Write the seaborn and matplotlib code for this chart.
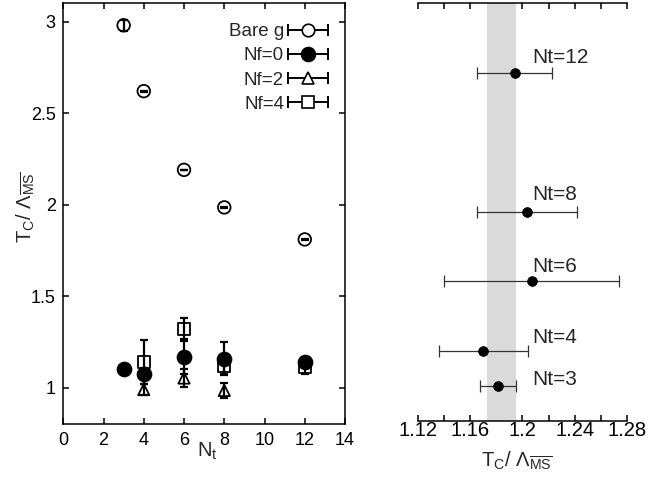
import matplotlib
matplotlib.use("Agg")
import matplotlib.pyplot as plt
from matplotlib.lines import Line2D
from matplotlib.legend_handler import HandlerLine2D
from matplotlib.ticker import FixedLocator, FixedFormatter, MultipleLocator
import seaborn as sns

# T_c / Lambda_MSbar against the temporal lattice extent N_t
bare_nt = [3, 4, 6, 8, 12]
bare_tc = [2.98, 2.62, 2.19, 1.985, 1.81]
bare_err = [0.03, 0.002, 0.002, 0.002, 0.002]

nf0_nt = [3, 4, 6, 8, 12]
nf0_tc = [1.103, 1.076, 1.167, 1.158, 1.14]
nf0_err = [0.01, 0.03, 0.09, 0.09, 0.02]

nf2_nt = [4, 6, 8]
nf2_tc = [0.99, 1.053, 0.985]
nf2_err = [0.028, 0.05, 0.042]

nf4_nt = [4, 6, 8, 12]
nf4_tc = [1.138, 1.322, 1.12, 1.112]
nf4_err = [0.12, 0.058, 0.045, 0.035]

# Pure-gauge estimates per N_t with horizontal uncertainties
fit_nt = [12, 8, 6, 4, 3]
fit_tc = [1.194, 1.2035, 1.207, 1.170, 1.181]
fit_err = [0.029, 0.0386, 0.067, 0.034, 0.0137]
fit_labels = ["Nt=12", "Nt=8", "Nt=6", "Nt=4", "Nt=3"]
band_lo, band_hi = 1.173, 1.195

right_ticks = [1.12, 1.16, 1.20, 1.24, 1.28]
right_ticklabels = ["1.12", "1.16", "1.2", "1.24", "1.28"]

sns.set_style("ticks")
plt.rcParams["font.family"] = ["Liberation Sans", "DejaVu Sans"]
plt.rcParams["mathtext.fontset"] = "custom"
plt.rcParams["mathtext.rm"] = "Liberation Sans"
plt.rcParams["mathtext.it"] = "Liberation Sans:italic"
plt.rcParams["axes.linewidth"] = 1.1

fig = plt.figure(figsize=(6.49, 4.83), dpi=100)
axL = fig.add_axes([0.0975, 0.1215, 0.4341, 0.8717])
axR = fig.add_axes([0.6445, 0.1290, 0.3211, 0.8648])

ylab = r"T$_\mathregular{C}$/ $\Lambda_{\overline{\mathregular{MS}}}$"

# ---------------- left panel ----------------
series = [
    ("Bare g", bare_nt, bare_tc, bare_err, "o", "none", 82, 2),
    ("Nf=4", nf4_nt, nf4_tc, nf4_err, "s", "none", 75, 3),
    ("Nf=2", nf2_nt, nf2_tc, nf2_err, "^", "none", 66, 4),
    ("Nf=0", nf0_nt, nf0_tc, nf0_err, "o", "black", 100, 5),
]
for name, xs, ys, es, mk, fc, size, z in series:
    axL.errorbar(xs, ys, yerr=es, fmt="none", ecolor="black",
                 elinewidth=1.6, capsize=3.2, capthick=1.6, zorder=z)
    sns.scatterplot(x=xs, y=ys, ax=axL, marker=mk, s=size, color="black",
                    facecolors=fc, edgecolor="black", linewidth=1.3,
                    zorder=z + 0.5, legend=False)

axL.set_xlim(0, 14)
axL.set_ylim(0.8, 3.1)
axL.xaxis.set_major_locator(MultipleLocator(2))
axL.yaxis.set_major_locator(FixedLocator([1, 1.5, 2, 2.5, 3]))
axL.yaxis.set_major_formatter(FixedFormatter(["1", "1.5", "2", "2.5", "3"]))
axL.tick_params(direction="in", top=True, right=True, length=4.5, width=1.1,
                labelsize=13, pad=5.5, colors="black")
for sp in axL.spines.values():
    sp.set_visible(True)
    sp.set_color("black")

axL.set_xlabel(r"N$_\mathregular{t}$", fontsize=14.5)
axL.xaxis.set_label_coords(0.51, -0.038)
axL.set_ylabel(ylab, fontsize=14.5)
axL.yaxis.set_label_coords(-0.088, 0.515)

# legend entries drawn as marker on a horizontal capped bar
handles, hmap = [], {}
for name, mk, fc in [("Bare g", "o", "white"), ("Nf=0", "o", "black"),
                     ("Nf=2", "^", "white"), ("Nf=4", "s", "white")]:
    bar = Line2D([], [], color="black", lw=1.4, marker="|", ms=8, mew=1.4)
    dot = Line2D([], [], ls="none", marker=mk, ms=10 if fc == "black" else 9,
                 mfc=fc, mec="black", mew=1.2)
    hmap[bar] = HandlerLine2D(numpoints=2, marker_pad=0)
    hmap[dot] = HandlerLine2D(numpoints=1)
    handles.append((bar, dot))
axL.legend(handles, ["Bare g", "Nf=0", "Nf=2", "Nf=4"], handler_map=hmap,
           loc="upper right", bbox_to_anchor=(0.94, 0.953), frameon=False,
           markerfirst=False, fontsize=13.5, handlelength=2.13,
           handletextpad=0.22, labelspacing=0.38, borderpad=0,
           borderaxespad=0)

# ---------------- right panel ----------------
axR.axvspan(band_lo, band_hi, color="#dadada", lw=0, zorder=1)
axR.errorbar(fit_tc, fit_nt, xerr=fit_err, fmt="none", ecolor="#333333",
             elinewidth=0.9, capsize=4.3, capthick=0.9, zorder=2)
sns.scatterplot(x=fit_tc, y=fit_nt, ax=axR, color="black", s=50,
                edgecolor="black", linewidth=0.5, zorder=3, legend=False)

label_dy = [0.42, 0.49, 0.44, 0.39, 0.19]
for nt, lab, dy in zip(fit_nt, fit_labels, label_dy):
    axR.text(1.2075, nt + dy, lab, fontsize=15, ha="left", va="center")

axR.set_xlim(1.12, 1.28)
axR.set_ylim(2, 14)
axR.xaxis.set_major_locator(FixedLocator(right_ticks))
axR.xaxis.set_major_formatter(FixedFormatter(right_ticklabels))
axR.xaxis.set_minor_locator(MultipleLocator(0.02))
axR.set_yticks([])
axR.tick_params(axis="x", which="both", direction="in", top=True,
                length=4.5, width=1.1, colors="black")
axR.tick_params(axis="x", which="major", labelsize=14.5, pad=0.5)
axR.spines["left"].set_visible(False)
axR.spines["right"].set_visible(False)
axR.spines["top"].set_color("black")
axR.spines["bottom"].set_color("black")
axR.set_xlabel(ylab, fontsize=14.5)
axR.xaxis.set_label_coords(0.47, -0.07)

fig.savefig("out.png", dpi=100)
